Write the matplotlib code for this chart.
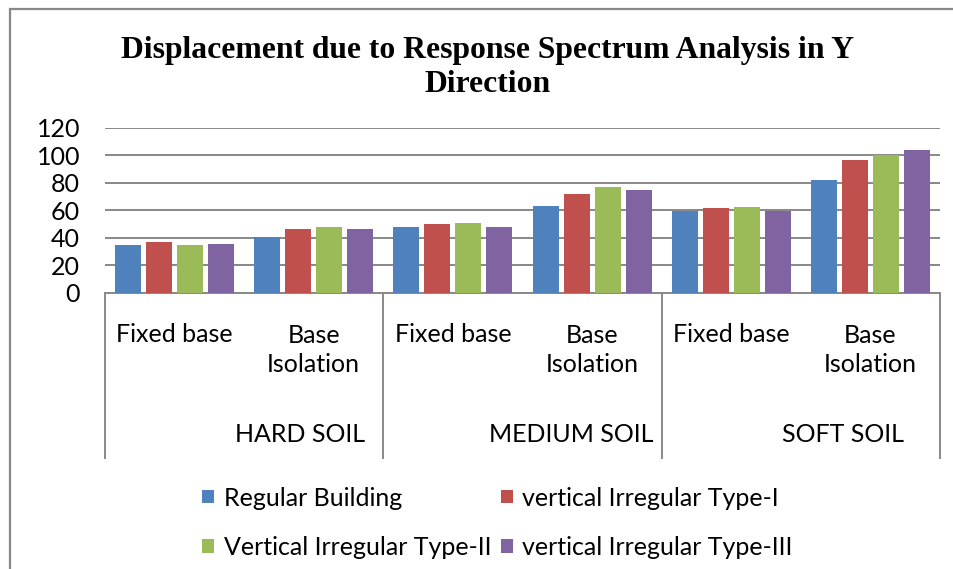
import matplotlib.pyplot as plt
import matplotlib.patches as patches
import matplotlib.transforms as transforms
import numpy as np

# data (displacement, mm)
soils = ['HARD SOIL', 'MEDIUM SOIL', 'SOFT SOIL']
bases = ['Fixed base', 'Base\nIsolation']
series_names = ['Regular Building', 'vertical Irregular Type-I',
                'Vertical Irregular Type-II', 'vertical Irregular Type-III']
regular = [35.2, 41.0, 48.2, 63.5, 59.9, 82.4]
type_1 = [37.3, 46.8, 50.4, 72.2, 62.1, 97.0]
type_2 = [35.2, 48.2, 51.2, 77.3, 62.8, 100.6]
type_3 = [35.4, 46.8, 48.2, 75.2, 59.4, 104.2]
colors = ['#4F81BD', '#C0504D', '#9BBB59', '#8064A2']
yticks = [0, 20, 40, 60, 80, 100, 120]

sans = ['Lato', 'DejaVu Sans']
fs = 18

fig = plt.figure(figsize=(9.54, 5.69), dpi=100)
ax = fig.add_axes([105/954, 1-293/569, 835/954, 165/569])

# grouped bars
x = np.arange(len(regular))
step = 0.223
width = 0.187
values = [regular, type_1, type_2, type_3]
handles = []
for k in range(4):
    b = ax.bar(x + (k - 1.5)*step, values[k], width, color=colors[k],
               label=series_names[k], zorder=3)
    handles.append(b)

ax.set_xlim(-0.5, 5.5)
ax.set_ylim(0, 120)
ax.set_yticks(yticks)
ax.set_yticklabels([str(v) for v in yticks], family=sans, fontsize=fs)
ax.tick_params(axis='y', length=0, pad=18)
ax.tick_params(axis='x', length=0, labelbottom=False)
ax.grid(axis='y', color='#888888', linewidth=1.4, zorder=0)
for s in ['top', 'right', 'left']:
    ax.spines[s].set_visible(False)
ax.spines['bottom'].set_color('#888888')
ax.spines['bottom'].set_linewidth(1.4)

# multi level category box under the axis
trans = transforms.blended_transform_factory(ax.transData, ax.transAxes)
for xv in [-0.5, 1.5, 3.5, 5.5]:
    ax.plot([xv, xv], [0, -1.0], color='#888888', linewidth=1.4,
            transform=trans, clip_on=False)
for i in range(6):
    ax.text(i, -0.345 if i % 2 else -0.25, bases[i % 2], transform=trans,
            ha='center', va='center', family=sans, fontsize=fs,
            linespacing=1.32)
soil_pos = [0.9, 2.85, 4.8]
for i in range(3):
    ax.text(soil_pos[i], -0.855, soils[i], transform=trans, ha='center',
            va='center', family=sans, fontsize=fs)

# title
fig.text(0.5115, 1-67.5/569,
         'Displacement due to Response Spectrum Analysis in Y\nDirection',
         ha='center', va='center', family='Liberation Serif',
         fontweight='bold', fontsize=22.8, linespacing=1.27)

# legend, reordered so rows read like the original
order = [0, 2, 1, 3]
fig.legend([handles[i] for i in order], [series_names[i] for i in order],
           ncol=2, loc='upper left', bbox_to_anchor=(190/954, 1-474/569),
           frameon=False, prop={'family': sans, 'size': fs},
           handlelength=0.45, handleheight=0.45, handletextpad=0.4,
           columnspacing=0.4, labelspacing=1.05, borderpad=0)

# outer chart frame
frame = patches.Rectangle((10/954, -0.1), 1.2, 1-9/569+0.1,
                          transform=fig.transFigure, fill=False,
                          edgecolor='#888888', linewidth=1.6)
fig.patches.append(frame)

fig.savefig('out.png', dpi=100)
